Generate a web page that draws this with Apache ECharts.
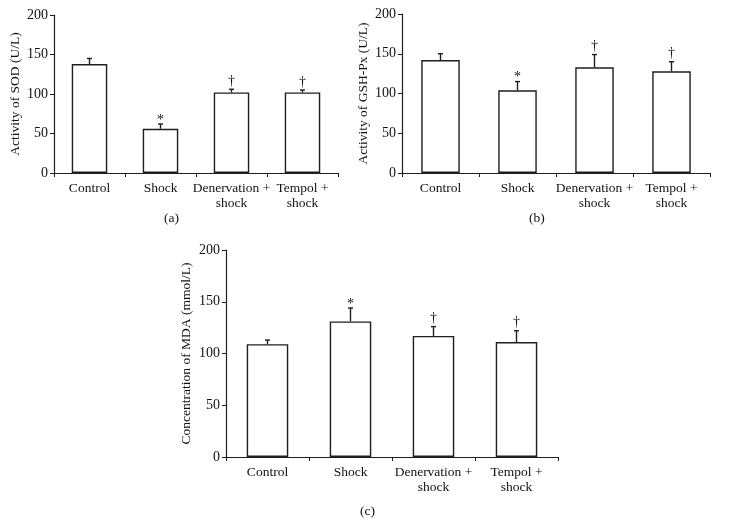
<!DOCTYPE html>
<html>
<head>
<meta charset="utf-8">
<script src="https://cdn.jsdelivr.net/npm/echarts@6/dist/echarts.min.js"></script>
<style>
html,body{margin:0;padding:0;background:#fff;}
#chart{width:738px;height:524px;}
</style>
</head>
<body>
<div id="chart"></div>
<script>
const categories = ['Control', 'Shock', 'Denervation +\nshock', 'Tempol +\nshock'];
const yTicks = [0, 50, 100, 150, 200];

const sodMean = [138, 56, 102, 102];
const sodErr  = [7, 6, 4, 3];
const sodSig  = ['', '*', '†', '†'];

const gshMean = [142, 104, 133, 128];
const gshErr  = [8, 11, 16, 12];
const gshSig  = ['', '*', '†', '†'];

const mdaMean = [109, 131, 117, 111];
const mdaErr  = [4, 13, 9, 11];
const mdaSig  = ['', '*', '†', '†'];

const panels = [
  {name: 'Activity of SOD (U/L)', mean: sodMean, err: sodErr, sig: sodSig, tag: '(a)',
   grid: {left: 54, top: 15, width: 284, height: 158}, nameGap: 32, tagPos: [172, 219]},
  {name: 'Activity of GSH-Px (U/L)', mean: gshMean, err: gshErr, sig: gshSig, tag: '(b)',
   grid: {left: 402, top: 14, width: 308, height: 159}, nameGap: 32, tagPos: [537, 219]},
  {name: 'Concentration of MDA (mmol/L)', mean: mdaMean, err: mdaErr, sig: mdaSig, tag: '(c)',
   grid: {left: 226, top: 250, width: 332, height: 207}, nameGap: 33, tagPos: [368, 512]}
];

const FONT = '"Liberation Serif", "DejaVu Serif", serif';
const INK = '#1e1e1e';

const option = {
  animation: false,
  backgroundColor: '#fff',
  textStyle: {fontFamily: FONT},
  grid: [], xAxis: [], yAxis: [], series: [], graphic: []
};

panels.forEach((p, i) => {
  option.grid.push(Object.assign({containLabel: false}, p.grid));
  option.xAxis.push({
    type: 'category', gridIndex: i, data: categories, boundaryGap: true,
    axisLine: {show: true, lineStyle: {color: INK, width: 1.2}},
    axisTick: {show: true, inside: false, length: 4, lineStyle: {color: INK, width: 1}},
    axisLabel: {color: '#111', fontFamily: FONT, fontSize: 13.5, margin: 8, lineHeight: 15, interval: 0},
    splitLine: {show: false}
  });
  option.yAxis.push({
    type: 'value', gridIndex: i, min: 0, max: 200, interval: 50,
    name: p.name, nameLocation: 'middle', nameGap: p.nameGap, nameRotate: 90,
    nameTextStyle: {color: '#111', fontFamily: FONT, fontSize: 13.5},
    axisLine: {show: true, lineStyle: {color: INK, width: 1.2}},
    axisTick: {show: true, inside: false, length: 4, lineStyle: {color: INK, width: 1}},
    axisLabel: {color: '#111', fontFamily: FONT, fontSize: 14, margin: 6,
      formatter: v => yTicks.includes(v) ? String(v) : ''},
    splitLine: {show: false}
  });
  option.series.push({
    type: 'bar', xAxisIndex: i, yAxisIndex: i, data: p.mean, barWidth: '50%',
    itemStyle: {color: '#fff', borderColor: INK, borderWidth: 1.4},
    z: 2
  });
  option.series.push({
    type: 'custom', xAxisIndex: i, yAxisIndex: i,
    data: p.mean.map((m, k) => [k, m, m + p.err[k]]),
    encode: {x: 0, y: [1, 2]},
    z: 3,
    renderItem: (params, api) => {
      const k = api.value(0);
      const base = api.coord([k, api.value(1)]);
      const top = api.coord([k, api.value(2)]);
      const sig = p.sig[k];
      const children = [
        {type: 'line', shape: {x1: base[0], y1: base[1], x2: top[0], y2: top[1]},
         style: {stroke: INK, lineWidth: 1.4}},
        {type: 'line', shape: {x1: top[0] - 2.5, y1: top[1], x2: top[0] + 2.5, y2: top[1]},
         style: {stroke: INK, lineWidth: 1.4}}
      ];
      if (sig) {
        const dy = sig === '*' ? 3 : -1;
        children.push({type: 'text', x: top[0], y: top[1] + dy,
          style: {text: sig, fill: '#111', font: '14px ' + FONT, align: 'center', verticalAlign: 'bottom'}});
      }
      return {type: 'group', children: children};
    }
  });
  option.graphic.push({
    type: 'text', left: p.tagPos[0] - 8, top: p.tagPos[1] - 8,
    style: {text: p.tag, fill: '#111', font: '13.5px ' + FONT}
  });
});

const chart = echarts.init(document.getElementById('chart'), null, {renderer: 'canvas'});
chart.setOption(option);
</script>
</body>
</html>
